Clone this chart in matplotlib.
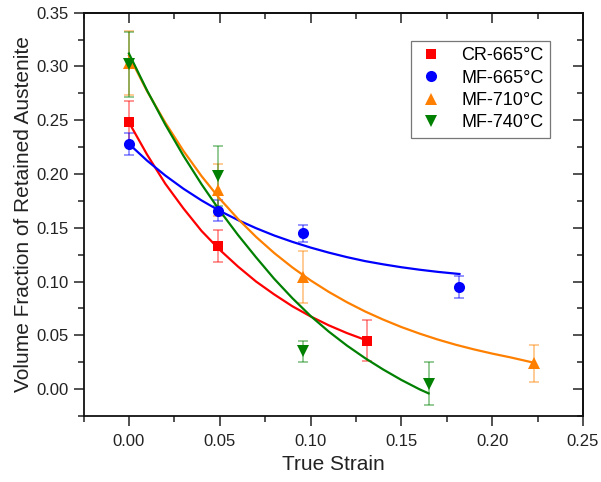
import matplotlib
matplotlib.use("Agg")
import matplotlib.pyplot as plt
from matplotlib.ticker import MultipleLocator, FormatStrFormatter, NullFormatter
from matplotlib.lines import Line2D

plt.rcParams['font.family'] = ['Liberation Sans', 'DejaVu Sans']

# ---- measured points ----
cr_x = [0.0, 0.049, 0.131]
cr_y = [0.248, 0.133, 0.045]
cr_err = [0.020, 0.015, 0.019]

mf665_x = [0.0, 0.049, 0.096, 0.182]
mf665_y = [0.228, 0.166, 0.145, 0.095]
mf665_err = [0.010, 0.010, 0.008, 0.010]

mf710_x = [0.0, 0.049, 0.096, 0.223]
mf710_y = [0.303, 0.185, 0.104, 0.024]
mf710_err = [0.030, 0.024, 0.024, 0.017]

mf740_x = [0.0, 0.049, 0.096, 0.165]
mf740_y = [0.302, 0.198, 0.035, 0.005]
mf740_err = [0.030, 0.028, 0.010, 0.020]

# ---- fitted curves ----
cr_fit_x = [0.0, 0.01, 0.02, 0.03, 0.04, 0.05, 0.06, 0.07, 0.08, 0.09,
            0.10, 0.11, 0.12, 0.131]
cr_fit_y = [0.248, 0.218, 0.191, 0.168, 0.147, 0.1295, 0.114, 0.100, 0.088,
            0.077, 0.0676, 0.0593, 0.0521, 0.0452]

mf665_fit_x = [0.0, 0.01, 0.02, 0.03, 0.04, 0.05, 0.06, 0.07, 0.08, 0.09,
               0.10, 0.11, 0.12, 0.13, 0.14, 0.15, 0.16, 0.17, 0.182]
mf665_fit_y = [0.228, 0.2124, 0.1986, 0.1863, 0.1754, 0.1657, 0.1572, 0.1496,
               0.1428, 0.1369, 0.1316, 0.1269, 0.1227, 0.1190, 0.1160, 0.1133,
               0.1110, 0.1090, 0.1070]

mf710_fit_x = [0.0, 0.01, 0.02, 0.03, 0.04, 0.05, 0.06, 0.07, 0.08, 0.09,
               0.10, 0.11, 0.12, 0.13, 0.14, 0.15, 0.16, 0.17, 0.18, 0.19,
               0.20, 0.21, 0.223]
mf710_fit_y = [0.310, 0.277, 0.2478, 0.2215, 0.198, 0.177, 0.1583, 0.1415,
               0.1265, 0.1131, 0.1011, 0.0904, 0.0808, 0.0722, 0.0646, 0.0577,
               0.0516, 0.0461, 0.0412, 0.0369, 0.0330, 0.0295, 0.0245]

mf740_fit_x = [0.0, 0.01, 0.02, 0.03, 0.04, 0.05, 0.06, 0.07, 0.08, 0.09,
               0.10, 0.11, 0.12, 0.13, 0.14, 0.15, 0.16, 0.165]
mf740_fit_y = [0.312, 0.2776, 0.246, 0.217, 0.1904, 0.1659, 0.1434, 0.1225,
               0.1025, 0.0845, 0.068, 0.0535, 0.0405, 0.0288, 0.0182, 0.0085,
               -0.0002, -0.004]

labels = ['CR-665°C', 'MF-665°C', 'MF-710°C', 'MF-740°C']
colors = ['#ff0000', '#0000ff', '#ff8000', '#008000']
markers = ['s', 'o', '^', 'v']
msizes = [7.0, 8.0, 8.5, 8.5]

series = [
    (cr_x, cr_y, cr_err, cr_fit_x, cr_fit_y),
    (mf665_x, mf665_y, mf665_err, mf665_fit_x, mf665_fit_y),
    (mf710_x, mf710_y, mf710_err, mf710_fit_x, mf710_fit_y),
    (mf740_x, mf740_y, mf740_err, mf740_fit_x, mf740_fit_y),
]

fig = plt.figure(figsize=(6.01, 4.82), dpi=100)
ax = fig.add_axes([0.139, 0.137, 0.831, 0.8367])

for (x, y, e, fx, fy), c, m, ms in zip(series, colors, markers, msizes):
    ax.errorbar(x, y, yerr=e, fmt='none', ecolor=c, alpha=0.45,
                elinewidth=1.3, capsize=3.5, capthick=1.3, zorder=2)
    ax.plot(fx, fy, color=c, lw=1.6, zorder=3, solid_joinstyle='round')
    ax.plot(x, y, linestyle='none', marker=m, color=c, markersize=ms,
            markeredgewidth=0, zorder=4)

ax.set_xlim(-0.025, 0.25)
ax.set_ylim(-0.025, 0.35)
for axis in (ax.xaxis, ax.yaxis):
    axis.set_major_locator(MultipleLocator(0.05))
    axis.set_minor_locator(MultipleLocator(0.025))
    axis.set_major_formatter(FormatStrFormatter('%.2f'))

ax.tick_params(which='both', direction='out', labelsize=12, width=1.1,
               colors='#222222', labelcolor='#222222', top=False, right=False)
ax.tick_params(which='major', length=7)
ax.tick_params(which='minor', length=4)
ax.tick_params(axis='x', which='major', pad=6)
ax.tick_params(axis='y', which='major', pad=4)

# mirrored ticks on top/right pointing inward
secx = ax.secondary_xaxis('top')
secy = ax.secondary_yaxis('right')
for sec, axis in ((secx, secx.xaxis), (secy, secy.yaxis)):
    axis.set_major_locator(MultipleLocator(0.05))
    axis.set_minor_locator(MultipleLocator(0.025))
    axis.set_major_formatter(NullFormatter())
    sec.tick_params(which='both', direction='in', width=1.1, colors='#222222')
    sec.tick_params(which='major', length=7)
    sec.tick_params(which='minor', length=4)
    for s in sec.spines.values():
        s.set_linewidth(1.3)
        s.set_color('#111111')

for s in ax.spines.values():
    s.set_linewidth(1.3)
    s.set_color('#111111')

ax.set_xlabel('True Strain', fontsize=15, color='#222222', labelpad=4)
ax.set_ylabel('Volume Fraction of Retained Austenite', fontsize=15,
              color='#222222', labelpad=2)

handles = [Line2D([], [], linestyle='none', marker=m, color=c, markersize=ms,
                  markeredgewidth=0) for m, c, ms in zip(markers, colors, msizes)]
leg = ax.legend(handles, labels, loc='upper left',
                bbox_to_anchor=(0.655, 0.93), fontsize=13,
                frameon=True, fancybox=False, edgecolor='#555555',
                handletextpad=0.85, borderpad=0.35, labelspacing=0.3,
                handlelength=1.6, borderaxespad=0)
leg.get_frame().set_linewidth(0.9)

fig.savefig('out.png', dpi=100)
